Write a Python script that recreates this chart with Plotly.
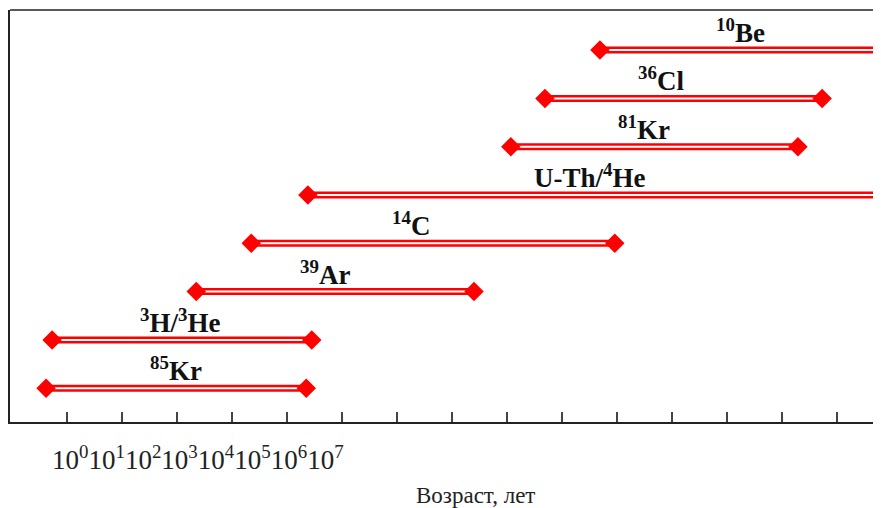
import plotly.graph_objects as go

# rows from bottom to top
tracers = ["<sup>85</sup>Kr", "<sup>3</sup>H/<sup>3</sup>He", "<sup>39</sup>Ar", "<sup>14</sup>C",
           "U-Th/<sup>4</sup>He", "<sup>81</sup>Kr", "<sup>36</sup>Cl", "<sup>10</sup>Be"]
# range start / end in axis tick units
range_start = [-0.38, -0.27, 2.35, 3.35, 4.38, 8.07, 8.69, 9.69]
range_end = [4.35, 4.45, 7.40, 9.96, 14.9, 13.29, 13.73, 14.9]
label_x = [1.98, 2.06, 4.7, 6.25, 9.5, 10.5, 10.8, 12.25]
tick_positions = list(range(0, 16))
tick_label_text = "10<sup>0</sup>10<sup>1</sup>10<sup>2</sup>10<sup>3</sup>10<sup>4</sup>10<sup>5</sup>10<sup>6</sup>10<sup>7</sup>"
x_title = "Возраст, лет"

RED = "#ff0000"
fig = go.Figure()

for i, (name, s, e) in enumerate(zip(tracers, range_start, range_end)):
    fig.add_trace(go.Scatter(x=[s, e], y=[i, i], mode="lines",
                             line=dict(color=RED, width=7), showlegend=False, hoverinfo="skip"))
    fig.add_trace(go.Scatter(x=[s, e], y=[i, i], mode="lines",
                             line=dict(color="white", width=2), showlegend=False, hoverinfo="skip"))
    fig.add_trace(go.Scatter(x=[s, e], y=[i, i], mode="markers",
                             marker=dict(symbol="diamond", size=15, color=RED),
                             cliponaxis=False, showlegend=False, hoverinfo="skip"))
    fig.add_annotation(x=label_x[i], y=i, text="<b>" + name + "</b>", showarrow=False,
                       yshift=19, font=dict(family="Liberation Serif", size=27, color="#111"))

PW = 879  # plot width in px
fig.add_annotation(xref="paper", yref="paper", x=(50 - 10) / PW, y=-36 / 412,
                   xanchor="left", yanchor="middle", text=tick_label_text, showarrow=False,
                   font=dict(family="Liberation Serif", size=27, color="#222"))
fig.add_annotation(xref="paper", yref="paper", x=(475 - 10) / PW, y=-73 / 412,
                   xanchor="center", yanchor="middle", text=x_title, showarrow=False,
                   font=dict(family="Liberation Serif", size=23, color="#222"))

fig.add_shape(type="line", xref="paper", yref="paper", x0=0, x1=1, y0=1, y1=1,
              line=dict(color="#222", width=1.5))

fig.update_xaxes(range=[-1.036, -1.036 + PW / 55.0], tickmode="array", tickvals=tick_positions,
                 showticklabels=False, ticks="inside", ticklen=10, tickwidth=1.5, tickcolor="#444",
                 showgrid=False, zeroline=False, showline=True, linecolor="#222", linewidth=1.5)
fig.update_yaxes(range=[-0.70, 7.83], showticklabels=False, ticks="", showgrid=False,
                 zeroline=False, showline=True, linecolor="#222", linewidth=1.5)

# page body has an 8px margin, so offset the figure margins accordingly
fig.update_layout(width=881, height=508, margin=dict(l=2, r=0, t=2, b=94),
                  plot_bgcolor="white", paper_bgcolor="white")
fig.write_html("out.html")
